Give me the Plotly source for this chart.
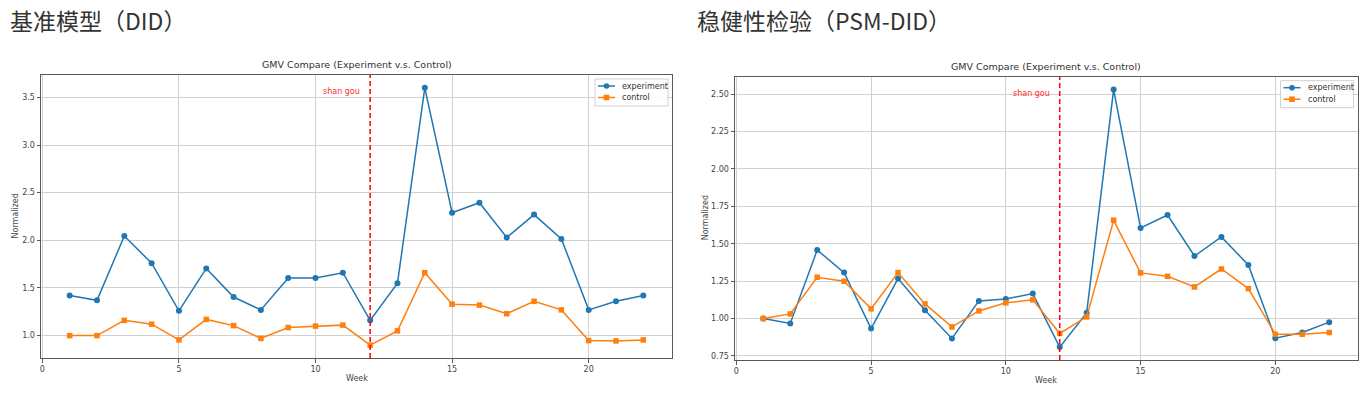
import plotly.graph_objects as go

weeks = list(range(1, 23))

did_experiment = [1.42, 1.37, 2.045, 1.76, 1.26, 1.705, 1.405, 1.27, 1.605, 1.605, 1.66,
                  1.16, 1.55, 3.60, 2.29, 2.395, 2.03, 2.27, 2.015, 1.27, 1.36, 1.42]
did_control = [1.00, 1.00, 1.16, 1.12, 0.955, 1.17, 1.105, 0.97, 1.085, 1.10, 1.11,
               0.90, 1.05, 1.66, 1.33, 1.32, 1.23, 1.36, 1.27, 0.948, 0.944, 0.955]

psm_experiment = [1.00, 0.967, 1.458, 1.307, 0.933, 1.267, 1.056, 0.867, 1.118, 1.131, 1.167,
                  0.809, 1.038, 2.53, 1.605, 1.692, 1.418, 1.545, 1.358, 0.869, 0.907, 0.976]
psm_control = [1.00, 1.031, 1.276, 1.249, 1.065, 1.307, 1.098, 0.944, 1.051, 1.105, 1.125,
               0.90, 1.011, 1.656, 1.305, 1.282, 1.211, 1.331, 1.20, 0.895, 0.895, 0.907]

series_names = ["experiment", "control"]
event_week = 12
event_label = "shan gou"
panel_titles = ["基准模型（DID）", "稳健性检验（PSM-DID）"]
chart_title = "GMV Compare (Experiment v.s. Control)"
x_ticks = [0, 5, 10, 15, 20]
did_y_ticks = [1.0, 1.5, 2.0, 2.5, 3.0, 3.5]
psm_y_ticks = [0.75, 1.00, 1.25, 1.50, 1.75, 2.00, 2.25, 2.50]

W, H = 1372, 394
BLUE = "#1f77b4"
ORANGE = "#ff7f0e"
FONT = "DejaVu Sans"
SMALL = 8


def px(x):
    return x / W


def py(y):
    return 1 - y / H


def padded(vals):
    lo, hi = min(vals), max(vals)
    m = (hi - lo) * 0.05
    return [lo - m, hi + m]


fig = go.Figure()

panels = [
    dict(exp=did_experiment, ctl=did_control, ticks=did_y_ticks, fmt=".1f",
         box=(41, 672, 75, 358), xa="x", ya="y", title_x=8, ylab_x=15),
    dict(exp=psm_experiment, ctl=psm_control, ticks=psm_y_ticks, fmt=".2f",
         box=(735, 1357.5, 76.7, 360), xa="x2", ya="y2", title_x=695, ylab_x=705),
]

annotations = []
shapes = []
layout_axes = {}

for i, p in enumerate(panels):
    L, R, T, B = p["box"]
    colors = [BLUE, ORANGE]
    symbols = ["circle", "square"]
    sizes = [6, 5.5]
    for name, vals, c, s, sz in zip(series_names, [p["exp"], p["ctl"]], colors, symbols, sizes):
        fig.add_trace(go.Scatter(
            x=weeks, y=vals, name=name, mode="lines+markers",
            line=dict(color=c, width=1.5),
            marker=dict(symbol=s, size=sz, color=c),
            xaxis=p["xa"], yaxis=p["ya"], showlegend=False))

    suffix = "" if i == 0 else "2"
    yr = padded(p["exp"] + p["ctl"])
    axis_common = dict(
        showline=True, linecolor="#5a5a5a", linewidth=1, mirror=True,
        showgrid=True, gridcolor="#d0d0d0", gridwidth=1,
        ticks="outside", ticklen=3.5, tickcolor="#5a5a5a", tickwidth=1,
        tickfont=dict(family=FONT, size=SMALL, color="#444444"),
        zeroline=False,
    )
    layout_axes["xaxis" + suffix] = dict(
        axis_common, domain=[px(L), px(R)], anchor="y" + suffix,
        range=[-0.05, 23.05], tickvals=x_ticks,
        ticktext=[str(t) for t in x_ticks])
    layout_axes["yaxis" + suffix] = dict(
        axis_common, domain=[py(B), py(T)], anchor="x" + suffix,
        range=yr, tickvals=p["ticks"],
        ticktext=[format(t, p["fmt"]) for t in p["ticks"]])

    # event line
    shapes.append(dict(type="line", xref=p["xa"], yref=p["ya"] + " domain",
                       x0=event_week, x1=event_week, y0=0, y1=1,
                       line=dict(color="#ff0000", width=1.5, dash="5px,3px")))
    annotations.append(dict(
        x=event_week - 0.3, y=max(p["exp"]) * 0.99, xref=p["xa"], yref=p["ya"],
        text=event_label, showarrow=False, xanchor="right", yanchor="middle",
        font=dict(family=FONT, size=SMALL, color="#ff2a2a")))

    # chart title
    annotations.append(dict(
        x=px((L + R) / 2), y=py(T - 3), xref="paper", yref="paper",
        text=chart_title, showarrow=False, xanchor="center", yanchor="bottom",
        font=dict(family=FONT, size=9.5, color="#333333")))
    # axis labels
    annotations.append(dict(
        x=px((L + R) / 2), y=py(B + 20), xref="paper", yref="paper",
        text="Week", showarrow=False, xanchor="center", yanchor="middle",
        font=dict(family=FONT, size=SMALL, color="#444444")))
    annotations.append(dict(
        x=px(p["ylab_x"]), y=py((T + B) / 2), xref="paper", yref="paper",
        text="Normalized", showarrow=False, textangle=-90,
        xanchor="center", yanchor="middle",
        font=dict(family=FONT, size=SMALL, color="#444444")))
    # panel heading
    annotations.append(dict(
        x=px(p["title_x"]), y=py(20), xref="paper", yref="paper",
        text=panel_titles[i], showarrow=False, xanchor="left", yanchor="middle",
        font=dict(family="Noto Sans CJK SC", size=23, color="#333333")))

    # legend (drawn in matplotlib style, compact)
    bx1 = R - 4
    bx0 = bx1 - 73
    by0 = T + 4
    by1 = by0 + 27
    shapes.append(dict(type="rect", xref="paper", yref="paper",
                       x0=px(bx0), x1=px(bx1), y0=py(by1), y1=py(by0),
                       fillcolor="rgba(255,255,255,0.85)",
                       line=dict(color="#d0d0d0", width=1)))
    for k, (name, c, s) in enumerate(zip(series_names, colors, symbols)):
        ey = by0 + 7 + k * 11.5
        shapes.append(dict(type="line", xref="paper", yref="paper",
                           x0=px(bx0 + 3), x1=px(bx0 + 20), y0=py(ey), y1=py(ey),
                           line=dict(color=c, width=1.5)))
        r = 2.8
        shapes.append(dict(type="circle" if s == "circle" else "rect",
                           xref="paper", yref="paper",
                           x0=px(bx0 + 11.5 - r), x1=px(bx0 + 11.5 + r),
                           y0=py(ey + r), y1=py(ey - r),
                           fillcolor=c, line=dict(color=c, width=0)))
        annotations.append(dict(
            x=px(bx0 + 25), y=py(ey), xref="paper", yref="paper",
            text=name, showarrow=False, xanchor="left", yanchor="middle",
            font=dict(family=FONT, size=SMALL, color="#333333")))

fig.update_layout(
    width=W, height=H,
    margin=dict(l=0, r=0, t=0, b=0),
    paper_bgcolor="white", plot_bgcolor="white",
    showlegend=False,
    shapes=shapes, annotations=annotations,
    **layout_axes,
)

fig.write_html("out.html", config={"displayModeBar": False},
               post_script="document.body.style.margin='0';")
